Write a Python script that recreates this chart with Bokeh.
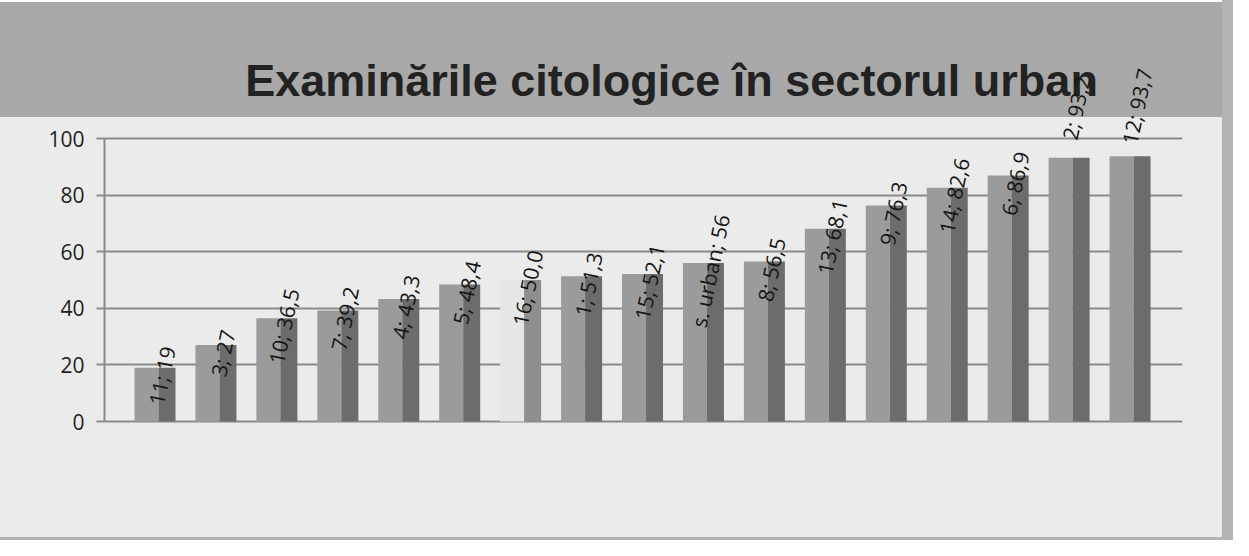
from bokeh.plotting import figure
from bokeh.models import Range1d, FixedTicker, Label, ColumnDataSource
from bokeh.core.properties import value
from bokeh.embed import file_html
from bokeh.resources import INLINE
import math

# ---- data ----
title_text = "Examinările citologice în sectorul urban"
categories = ["11", "3", "10", "7", "4", "5", "16", "1", "15", "s. urban", "8", "13", "9", "14", "6", "2", "12"]
values = [19, 27, 36.5, 39.2, 43.3, 48.4, 50.0, 51.3, 52.1, 56, 56.5, 68.1, 76.3, 82.6, 86.9, 93.2, 93.7]
value_texts = ["19", "27", "36,5", "39,2", "43,3", "48,4", "50,0", "51,3", "52,1", "56", "56,5", "68,1", "76,3", "82,6", "86,9", "93,2", "93,7"]
y_ticks = [0, 20, 40, 60, 80, 100]

# ---- layout (pixels) ----
W, H = 1233, 540
frame_left_px, frame_right_px = 104, 1182      # canvas coords
step_px = 60.94                                 # category spacing
first_center_px = 154.5                         # canvas x of first category
zero_px, hundred_px = 421, 138                  # canvas y of 0 and 100
ppu = (zero_px - hundred_px) / 100.0

x_start = -(first_center_px - frame_left_px) / step_px
x_end = (len(categories) - 1) + (frame_right_px - (first_center_px + step_px * (len(categories) - 1))) / step_px
y_start = -(H - zero_px) / ppu
y_end = 100 + hundred_px / ppu

def px_to_x(px):
    return x_start + (px - frame_left_px) / step_px

def py_to_y(py):
    return (zero_px - py) / ppu

p = figure(width=W, height=H, output_backend="svg", toolbar_location=None,
           x_range=Range1d(x_start, x_end), y_range=Range1d(y_start, y_end),
           x_axis_location=None, min_border_left=frame_left_px,
           min_border_right=W - frame_right_px, min_border_top=0, min_border_bottom=0,
           background_fill_alpha=0, border_fill_alpha=0, outline_line_color=None)

# slide-like background: grey title band, light body, grey right and bottom edges
p.styles = {
    "background": (
        "linear-gradient(to right, rgba(0,0,0,0) 1222px, #b3b3b3 1222px), "
        "linear-gradient(to bottom, #ffffff 0px, #ffffff 2px, #a9a9a9 2px, #a9a9a9 117px, "
        "#ebebeb 117px, #ebebeb 537px, #b3b3b3 537px)"
    )
}

# y axis and grid
yax = p.yaxis[0]
yax.ticker = FixedTicker(ticks=y_ticks)
yax.bounds = (0, 100)
yax.axis_line_color = "#8a8a8a"
yax.axis_line_width = 2
yax.major_tick_line_color = "#8a8a8a"
yax.major_tick_line_width = 2
yax.major_tick_out = 8
yax.major_tick_in = 0
yax.minor_tick_line_color = None
yax.major_label_text_font = "Open Sans"
yax.major_label_text_font_size = "21px"
yax.major_label_text_color = "#1e1e1e"
yax.major_label_standoff = 12
p.ygrid.ticker = FixedTicker(ticks=y_ticks)
p.ygrid.grid_line_color = "#8a8a8a"
p.ygrid.grid_line_width = 2
p.xgrid.visible = False

# bars: light front part + darker side part
idx = list(range(len(categories)))
light_w = 24 / step_px
dark_w = 17 / step_px
light_x = [i - 8.5 / step_px for i in idx]
dark_x = [i + 12 / step_px for i in idx]
light_col = ["#e6e6e6" if c == "16" else "#9b9b9b" for c in categories]
dark_col = ["#8f8f8f" if c == "16" else "#6c6c6c" for c in categories]

src = ColumnDataSource(dict(cat=categories, val=values, lx=light_x, dx=dark_x,
                            lc=light_col, dc=dark_col))
p.vbar(x="lx", top="val", bottom=0, width=light_w, fill_color="lc", line_color=None, source=src)
p.vbar(x="dx", top="val", bottom=0, width=dark_w, fill_color="dc", line_color=None, source=src)

# title (under the data labels)
p.add_layout(Label(x=px_to_x(671), y=py_to_y(80), text=title_text,
                   text_font="Liberation Sans", text_font_style="bold",
                   text_font_size="45px", text_color="#222222",
                   text_align="center", text_baseline="alphabetic", level="underlay"))

# data labels
labels = [f"{c}; {t}" for c, t in zip(categories, value_texts)]
lab_x = [i + 7 / step_px for i in idx]
lab_off = [-50 if v > 90 else 8 for v in values]
lsrc = ColumnDataSource(dict(x=lab_x, y=values, t=labels, off=lab_off))
p.text(x="x", y="y", text="t", y_offset="off", angle=math.radians(78), source=lsrc,
       text_font=value("Open Sans"), text_font_size="21px", text_color="#161616",
       text_align="center", text_baseline="middle")

open("out.html", "w").write(file_html(p, INLINE))
